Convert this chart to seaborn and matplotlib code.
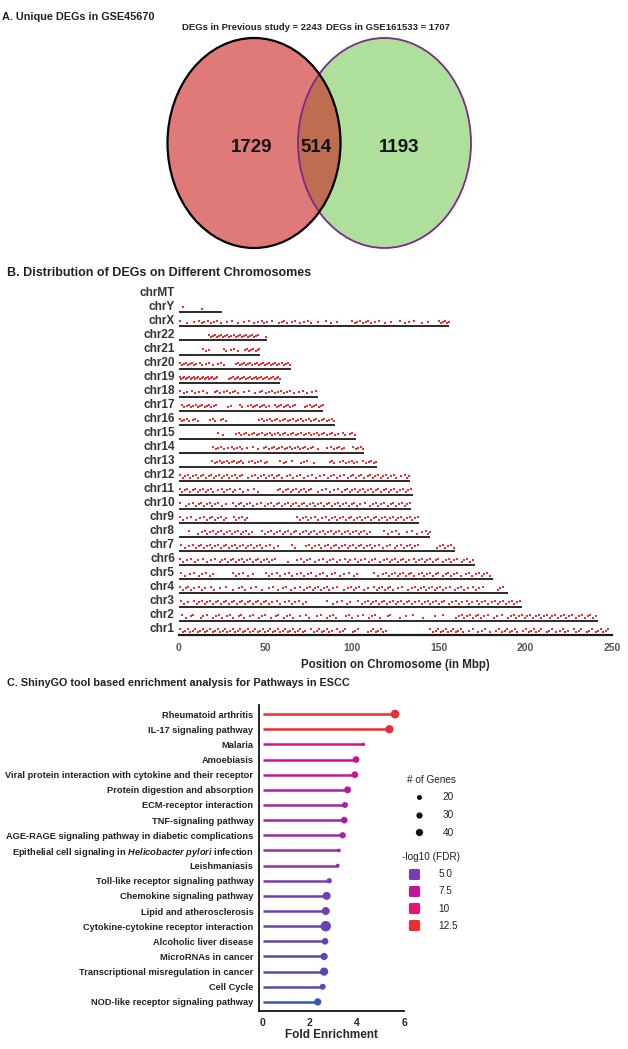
import numpy as np
import pandas as pd
import matplotlib
matplotlib.use("Agg")
import matplotlib.pyplot as plt
from matplotlib.patches import Ellipse
from matplotlib.colors import LinearSegmentedColormap, Normalize
from matplotlib.lines import Line2D
from matplotlib.markers import MarkerStyle
import seaborn as sns

sns.set_theme(style="white")
plt.rcParams["font.family"] = ["Liberation Sans", "DejaVu Sans"]
plt.rcParams["mathtext.fontset"] = "custom"
plt.rcParams["mathtext.it"] = "Liberation Sans:italic:bold"
plt.rcParams["mathtext.rm"] = "Liberation Sans:bold"
plt.rcParams["text.color"] = "#222222"

# ---- Panel A: Venn counts
prev_total = 2243
new_total = 1707
shared = 514

# ---- Panel B: DEG positions (Mbp) per chromosome
chrom_names = ["chr1", "chr2", "chr3", "chr4", "chr5", "chr6", "chr7", "chr8", "chr9", "chr10",
               "chr11", "chr12", "chr13", "chr14", "chr15", "chr16", "chr17", "chr18", "chr19",
               "chr20", "chr21", "chr22", "chrX", "chrY", "chrMT"]
chrom_lengths = [248.9, 242.2, 198.3, 190.2, 181.5, 170.8, 159.3, 145.1, 138.4, 133.8,
                 135.1, 133.3, 114.4, 107.0, 102.0, 90.3, 83.3, 80.4, 58.6,
                 64.4, 46.7, 50.8, 156.0, 25.0, 0.0]

chr1_deg = [0.8, 2.1, 3.5, 5.0, 6.2, 7.9, 9.4, 10.8, 12.0, 13.6, 15.1, 16.4, 17.9, 19.5, 20.7, 22.3,
            23.8, 25.2, 26.6, 28.0, 29.5, 31.0, 32.4, 33.9, 35.3, 36.8, 38.2, 39.7, 41.1, 42.6, 44.0,
            45.5, 46.9, 48.4, 49.8, 51.3, 52.7, 54.2, 55.6, 57.1, 58.5, 60.0, 61.4, 62.9, 64.3, 65.8,
            67.2, 68.7, 70.1, 71.6, 73.0, 76.5, 78.0, 79.4, 80.9, 82.3, 83.8, 85.2, 86.7, 88.1, 91.2,
            93.0, 94.6, 96.1, 100.2, 101.8, 103.3, 109.1, 110.6, 112.0, 113.5, 115.0, 116.4, 117.9,
            119.3, 145.2, 146.6, 148.1, 149.5, 151.0, 152.4, 153.9, 155.3, 156.8, 158.2, 159.7, 161.1,
            162.6, 164.0, 167.3, 169.5, 172.9, 175.1, 176.6, 179.8, 183.2, 185.0, 186.5, 188.0, 189.4,
            190.9, 192.3, 193.8, 195.2, 198.9, 200.3, 201.8, 203.2, 204.7, 206.1, 207.6, 209.0, 212.3,
            213.7, 215.2, 217.8, 220.1, 221.6, 223.0, 224.5, 227.9, 229.3, 230.8, 232.2, 235.5, 236.9,
            238.4, 240.6, 242.1, 243.5, 245.0, 246.4, 247.9]
chr2_deg = [1.5, 4.0, 6.8, 8.2, 12.5, 14.0, 16.1, 19.8, 21.3, 23.0, 24.6, 27.9, 29.4, 31.2, 34.5, 36.0,
            37.7, 41.2, 43.0, 46.3, 48.1, 49.7, 53.0, 55.8, 57.3, 60.9, 62.5, 64.2, 65.8, 70.0, 73.6,
            75.1, 79.4, 82.2, 85.5, 87.1, 88.8, 90.4, 96.7, 98.3, 99.9, 103.5, 106.0, 109.8, 111.4,
            113.0, 116.2, 120.5, 122.1, 127.7, 130.9, 135.2, 141.0, 147.6, 152.3, 160.0, 161.6, 163.2,
            164.8, 166.4, 168.0, 169.6, 171.2, 172.8, 174.4, 176.0, 178.5, 181.8, 183.4, 186.7, 190.0,
            191.6, 193.2, 194.8, 196.4, 198.0, 199.6, 201.2, 202.8, 204.4, 206.0, 207.6, 209.2, 210.8,
            212.4, 214.0, 215.6, 217.2, 218.8, 220.4, 222.0, 223.6, 225.2, 226.8, 229.5, 231.1, 232.7,
            234.3, 235.9, 237.5, 239.1, 240.7]
chr3_deg = [1.2, 3.0, 5.1, 8.7, 10.2, 11.8, 13.3, 14.9, 16.4, 18.0, 19.5, 21.1, 22.6, 24.2, 25.7, 27.3,
            28.8, 30.4, 31.9, 33.5, 35.0, 36.6, 38.1, 39.7, 41.2, 42.8, 44.3, 45.9, 47.4, 49.0, 50.5,
            52.1, 53.6, 56.8, 58.6, 61.0, 63.4, 65.2, 67.0, 69.5, 71.8, 73.1, 85.5, 88.7, 91.5, 94.1,
            96.9, 99.0, 103.2, 105.5, 107.4, 109.0, 110.6, 112.2, 113.8, 115.4, 117.0, 118.6, 120.2,
            121.8, 123.4, 125.0, 126.6, 128.2, 129.8, 131.4, 133.0, 134.6, 136.2, 138.8, 140.4, 142.0,
            143.6, 145.2, 146.8, 148.4, 150.0, 151.6, 153.2, 155.8, 157.4, 160.1, 161.7, 163.3, 166.0,
            167.6, 169.2, 171.8, 173.4, 175.0, 176.6, 178.2, 180.8, 182.4, 184.0, 185.6, 187.2, 188.8,
            190.4, 192.0, 193.6, 195.2, 196.8]
chr4_deg = [0.8, 2.3, 3.9, 5.4, 7.0, 8.8, 11.5, 13.2, 15.0, 18.4, 20.1, 23.7, 26.9, 31.0, 34.6, 36.2,
            38.0, 41.5, 44.2, 47.8, 52.0, 54.5, 57.1, 59.8, 62.0, 64.5, 67.2, 70.0, 72.4, 74.0, 75.6,
            77.2, 78.8, 80.4, 82.0, 83.6, 85.2, 86.8, 89.0, 91.5, 95.0, 97.6, 99.2, 100.8, 102.4, 104.0,
            106.8, 109.0, 112.5, 114.1, 115.7, 117.3, 118.9, 120.5, 122.1, 123.7, 126.4, 129.0, 132.2,
            134.8, 136.4, 138.0, 139.6, 141.2, 142.8, 144.4, 146.0, 147.6, 149.2, 150.8, 152.4, 154.0,
            156.7, 159.5, 161.1, 162.7, 164.3, 166.9, 169.8, 171.4, 173.0, 175.5, 184.2, 185.6, 187.0]
chr5_deg = [0.9, 3.4, 6.2, 8.8, 11.3, 13.0, 15.7, 18.1, 19.6, 31.0, 32.8, 34.9, 37.2, 40.1, 42.5, 50.3,
            52.0, 53.9, 56.4, 58.2, 61.0, 63.5, 65.1, 67.9, 70.4, 72.0, 74.6, 76.3, 78.9, 81.5, 83.0,
            85.7, 88.2, 90.0, 92.8, 95.4, 98.0, 101.2, 103.0, 112.8, 114.9, 117.5, 119.8, 121.4, 123.0,
            124.6, 126.2, 127.8, 129.4, 131.0, 132.6, 134.2, 135.8, 138.5, 140.1, 141.7, 143.3, 144.9,
            146.5, 148.1, 149.7, 152.3, 154.0, 155.6, 157.2, 158.8, 160.4, 163.0, 165.7, 167.3, 168.9,
            171.5, 173.1, 174.7, 176.3, 178.0, 179.6]
chr6_deg = [0.7, 2.5, 4.8, 7.1, 9.5, 11.2, 13.8, 16.0, 18.3, 20.9, 23.4, 25.0, 26.6, 28.2, 29.8, 31.4,
            33.0, 34.6, 36.2, 37.8, 39.4, 41.0, 42.6, 44.2, 45.8, 47.4, 49.0, 50.6, 52.2, 53.8, 55.4,
            63.2, 68.4, 70.5, 72.1, 73.7, 75.9, 78.5, 80.6, 83.2, 85.7, 87.3, 88.9, 91.4, 93.0, 95.8,
            97.4, 99.0, 101.6, 103.2, 104.8, 107.3, 109.9, 111.5, 113.1, 115.8, 118.3, 120.0, 121.6,
            123.2, 124.8, 126.4, 128.0, 129.6, 131.2, 132.8, 135.4, 137.0, 138.6, 140.2, 141.8, 143.4,
            145.0, 146.6, 148.2, 149.8, 152.5, 154.1, 155.7, 157.3, 158.9, 160.5, 163.2, 164.8, 166.4,
            168.0, 169.6]
chr7_deg = [0.9, 3.2, 6.0, 8.1, 9.7, 11.3, 12.9, 14.5, 16.1, 17.7, 19.3, 20.9, 22.5, 24.1, 25.7, 27.3,
            28.9, 30.5, 32.1, 33.7, 35.3, 36.9, 38.5, 40.1, 41.7, 43.3, 44.9, 46.5, 48.1, 50.0, 52.4,
            55.1, 57.3, 65.0, 67.2, 73.5, 75.1, 76.7, 78.3, 80.6, 82.2, 84.5, 86.1, 87.7, 89.3, 90.9,
            92.5, 94.1, 95.7, 97.3, 98.9, 100.5, 102.1, 103.7, 105.3, 106.9, 108.5, 110.1, 111.7, 113.3,
            115.6, 117.9, 120.2, 122.0, 124.5, 126.1, 128.4, 130.0, 131.6, 133.2, 134.8, 136.4, 138.0,
            149.0, 150.6, 152.2, 153.8, 155.4, 157.0, 158.6]
chr8_deg = [5.8, 11.0, 13.2, 14.8, 16.4, 18.0, 19.6, 21.2, 22.8, 24.4, 26.0, 27.6, 29.2, 30.8, 32.4,
            34.0, 35.6, 37.2, 38.8, 40.4, 42.0, 47.9, 49.5, 51.1, 53.4, 55.0, 56.6, 58.2, 59.8, 61.4,
            63.0, 64.6, 66.2, 67.8, 70.1, 71.7, 73.3, 74.9, 76.5, 78.1, 79.7, 81.3, 82.9, 84.5, 86.1,
            87.7, 89.3, 90.9, 92.5, 94.1, 95.7, 97.3, 98.9, 100.5, 102.1, 103.7, 105.3, 106.9, 108.5,
            110.1, 118.3, 120.4, 122.8, 125.0, 127.0, 131.9, 134.5, 137.6, 140.2, 142.8, 143.9, 144.7]
chr9_deg = [0.6, 2.4, 4.5, 7.0, 9.8, 12.1, 14.5, 16.1, 17.7, 19.3, 20.9, 22.5, 24.1, 25.7, 27.0, 31.5,
            33.1, 34.7, 36.3, 37.9, 39.2, 68.3, 69.9, 71.5, 73.1, 74.7, 76.3, 78.6, 80.2, 82.8, 85.1,
            86.7, 88.3, 89.9, 91.5, 93.1, 94.7, 96.3, 97.9, 99.5, 101.1, 102.7, 104.3, 105.9, 107.5,
            109.1, 110.7, 112.3, 113.9, 115.5, 117.1, 118.7, 120.3, 121.9, 123.5, 125.1, 126.7, 128.3,
            129.9, 131.5, 133.1, 134.7, 136.3, 137.8]
chr10_deg = [0.8, 4.2, 5.8, 8.1, 9.7, 11.3, 12.9, 14.5, 16.1, 17.7, 19.3, 20.9, 22.5, 24.6, 27.3, 31.2,
             32.8, 34.4, 36.0, 37.6, 39.2, 40.8, 42.9, 45.1, 47.4, 49.8, 51.6, 53.2, 54.8, 56.4, 58.0,
             59.6, 61.2, 62.8, 64.4, 66.0, 67.6, 69.2, 70.8, 72.4, 74.0, 75.6, 77.2, 78.8, 80.4, 82.0,
             83.6, 85.2, 86.8, 88.4, 90.0, 91.6, 93.2, 94.8, 96.4, 98.0, 99.6, 101.2, 102.8, 104.4,
             107.5, 110.3, 111.9, 113.5, 115.1, 116.7, 118.3, 120.6, 122.2, 123.8, 125.4, 127.0, 128.6,
             130.2, 131.8, 133.2]
chr11_deg = [0.5, 1.9, 3.4, 4.9, 6.4, 7.9, 9.4, 10.9, 12.4, 13.9, 15.4, 16.9, 18.4, 19.9, 22.5, 24.6,
             26.2, 27.8, 29.4, 31.0, 32.6, 35.2, 37.0, 39.8, 43.1, 45.5, 57.0, 58.5, 60.0, 61.5, 63.0,
             64.5, 66.0, 67.5, 69.0, 70.5, 72.0, 73.5, 75.0, 76.5, 80.1, 82.4, 85.0, 86.9, 89.5, 92.0,
             94.1, 95.6, 97.1, 98.6, 100.1, 101.6, 103.1, 104.6, 106.1, 107.6, 109.1, 110.6, 112.1,
             113.6, 115.1, 116.6, 118.1, 119.6, 121.1, 122.6, 124.1, 125.6, 127.4, 129.5, 131.0, 132.5,
             134.0]
chr12_deg = [0.6, 2.1, 3.6, 5.1, 6.6, 8.1, 9.6, 11.1, 12.6, 14.1, 15.6, 17.1, 18.6, 20.1, 21.6, 23.1,
             24.6, 26.1, 27.6, 29.1, 30.6, 32.1, 33.6, 35.1, 36.6, 40.0, 42.2, 44.1, 45.7, 47.5, 49.0,
             50.5, 52.0, 53.5, 55.0, 56.5, 58.0, 59.5, 62.3, 64.0, 66.1, 68.4, 70.0, 72.2, 74.5, 76.8,
             79.0, 81.2, 83.5, 85.8, 88.0, 89.5, 91.0, 93.2, 95.5, 97.7, 99.2, 100.7, 102.2, 103.7,
             105.2, 106.7, 108.9, 110.4, 111.9, 113.4, 114.9, 116.4, 117.9, 119.4, 120.9, 122.4, 123.9,
             125.4, 128.2, 130.3, 131.8, 133.0]
chr13_deg = [19.2, 20.6, 22.0, 23.4, 24.8, 26.2, 27.6, 29.0, 30.4, 31.8, 33.2, 34.6, 36.0, 37.1, 40.3,
             42.1, 43.6, 45.4, 47.2, 49.5, 51.0, 58.3, 60.5, 62.0, 65.4, 70.2, 72.0, 73.8, 78.1, 87.0,
             88.3, 89.6, 93.2, 94.8, 96.4, 98.0, 99.6, 101.2, 102.5, 106.3, 107.9, 109.5, 111.1, 112.7,
             114.0]
chr14_deg = [19.8, 21.3, 22.8, 24.3, 25.8, 28.1, 30.4, 32.0, 33.5, 35.0, 36.5, 39.2, 42.5, 45.6, 49.0,
             50.5, 52.0, 53.5, 55.0, 56.5, 58.0, 59.5, 61.0, 62.5, 64.0, 65.5, 67.0, 68.5, 70.0, 71.5,
             73.0, 74.5, 76.0, 77.5, 80.3, 85.2, 87.9, 89.5, 91.0, 92.5, 94.0, 95.5, 100.4, 102.0,
             103.5, 105.0, 106.3]
chr15_deg = [22.8, 25.3, 32.9, 34.4, 35.9, 37.4, 38.9, 40.4, 41.9, 43.4, 44.9, 46.4, 47.9, 49.4, 50.9,
             52.4, 53.9, 55.4, 56.9, 58.4, 59.9, 61.4, 62.9, 64.4, 65.9, 67.4, 68.9, 70.4, 71.9, 73.4,
             74.9, 76.4, 77.9, 79.4, 80.9, 82.4, 83.9, 85.4, 86.9, 88.4, 89.9, 92.0, 94.6, 96.1, 98.5,
             100.0, 101.4]
chr16_deg = [0.5, 1.8, 3.1, 4.4, 5.6, 8.2, 9.5, 11.0, 18.0, 19.4, 20.8, 24.1, 25.5, 26.9, 46.3, 47.8,
             49.3, 50.8, 52.3, 53.8, 55.3, 56.8, 58.3, 59.8, 61.3, 62.8, 64.3, 65.8, 67.3, 68.8, 70.3,
             71.8, 73.3, 74.8, 76.3, 77.8, 79.3, 80.8, 82.3, 83.8, 85.3, 86.8, 88.3, 89.6]
chr17_deg = [1.8, 3.1, 4.4, 5.7, 7.0, 8.3, 9.6, 10.9, 12.2, 13.5, 14.8, 16.1, 17.4, 18.7, 20.0, 21.3,
             28.3, 30.1, 35.2, 36.6, 40.1, 41.4, 42.7, 44.0, 45.3, 46.6, 47.9, 49.2, 50.5, 51.8, 55.2,
             56.5, 57.8, 59.1, 60.4, 61.7, 63.0, 64.3, 65.6, 66.9, 72.8, 74.1, 75.4, 76.7, 78.0, 79.3,
             80.6, 81.9, 83.0]
chr18_deg = [0.6, 2.7, 4.9, 7.3, 9.5, 11.8, 13.9, 16.4, 20.5, 22.1, 23.7, 25.9, 27.6, 29.4, 31.0, 32.5,
             34.1, 37.8, 40.2, 43.9, 46.5, 48.1, 50.3, 52.0, 53.8, 55.4, 57.1, 58.7, 60.4, 62.2, 64.0,
             66.5, 69.1, 71.8, 74.0, 76.6, 79.0]
chr19_deg = [0.4, 1.3, 2.2, 3.1, 4.0, 4.9, 5.8, 6.7, 7.6, 8.5, 9.4, 10.3, 11.2, 12.1, 13.0, 13.9, 14.8,
             15.7, 16.6, 17.5, 18.4, 19.3, 20.2, 21.1, 22.0, 28.8, 29.9, 31.0, 32.1, 33.2, 34.3, 35.4,
             36.5, 37.6, 38.7, 39.8, 40.9, 42.0, 43.1, 44.2, 45.3, 46.4, 47.5, 48.6, 49.7, 50.8, 51.9,
             53.0, 54.1, 55.2, 56.3, 57.4, 58.3]
chr20_deg = [0.4, 1.6, 2.8, 4.0, 5.2, 6.4, 7.6, 8.8, 10.0, 11.9, 13.5, 15.6, 17.4, 19.9, 22.3, 24.5,
             26.1, 32.8, 34.0, 35.2, 36.4, 37.6, 38.8, 40.0, 41.2, 42.4, 43.6, 44.8, 46.0, 47.2, 48.4,
             49.6, 50.8, 52.0, 53.2, 54.4, 55.6, 56.8, 58.0, 59.2, 60.4, 61.6, 62.8, 63.9]
chr21_deg = [14.1, 15.6, 17.2, 25.8, 27.4, 29.9, 31.5, 33.8, 38.2, 39.4, 40.6, 41.8, 43.0, 44.2, 45.4,
             46.3]
chr22_deg = [17.1, 18.3, 19.5, 20.7, 21.9, 23.1, 24.3, 25.5, 26.7, 27.9, 29.1, 30.3, 31.5, 32.7, 33.9,
             35.1, 36.3, 37.5, 38.7, 39.9, 41.1, 42.3, 43.5, 44.7, 45.9, 50.2]
chrX_deg = [0.8, 4.9, 8.6, 11.4, 13.0, 14.6, 16.7, 18.3, 20.1, 22.0, 24.5, 27.9, 30.8, 33.9, 37.5, 40.4,
            43.1, 45.6, 47.8, 49.3, 51.0, 53.6, 57.7, 59.2, 60.6, 62.1, 65.3, 67.0, 69.8, 71.9, 74.2,
            76.4, 80.1, 84.9, 88.0, 91.2, 99.8, 101.5, 103.0, 104.6, 106.1, 107.7, 109.2, 110.8, 112.9,
            115.6, 119.1, 122.3, 127.8, 130.5, 132.6, 135.9, 140.2, 144.0, 150.1, 151.3, 152.5, 153.7,
            154.9, 155.8]
chrY_deg = [2.5, 13.0]
chrMT_deg = []

chrom_degs = [chr1_deg, chr2_deg, chr3_deg, chr4_deg, chr5_deg, chr6_deg, chr7_deg, chr8_deg,
              chr9_deg, chr10_deg, chr11_deg, chr12_deg, chr13_deg, chr14_deg, chr15_deg, chr16_deg,
              chr17_deg, chr18_deg, chr19_deg, chr20_deg, chr21_deg, chr22_deg, chrX_deg, chrY_deg,
              chrMT_deg]

# ---- Panel C: ShinyGO pathways
pathways = ["Rheumatoid arthritis", "IL-17 signaling pathway", "Malaria", "Amoebiasis",
            "Viral protein interaction with cytokine and their receptor",
            "Protein digestion and absorption", "ECM-receptor interaction", "TNF-signaling pathway",
            "AGE-RAGE signaling pathway in diabetic complications",
            r"Epithelial cell signaling in $\mathit{Helicobacter\ pylori}$ infection",
            "Leishmaniasis", "Toll-like receptor signaling pathway", "Chemokine signaling pathway",
            "Lipid and atherosclerosis", "Cytokine-cytokine receptor interaction",
            "Alcoholic liver disease", "MicroRNAs in cancer", "Transcriptional misregulation in cancer",
            "Cell Cycle", "NOD-like receptor signaling pathway"]
fold_enrichment = [5.62, 5.38, 4.27, 3.96, 3.91, 3.60, 3.49, 3.46, 3.39, 3.23,
                   3.18, 2.82, 2.71, 2.67, 2.67, 2.64, 2.60, 2.60, 2.54, 2.33]
n_genes = [56, 51, 11, 34, 34, 37, 28, 34, 31, 12,
           12, 22, 48, 48, 84, 34, 40, 51, 28, 40]
neg_log_fdr = [12.5, 12.3, 8.5, 8.0, 8.0, 7.0, 6.6, 6.4, 6.3, 6.0,
               5.9, 5.0, 4.8, 4.7, 4.6, 4.5, 4.4, 4.3, 4.2, 3.5]
size_legend = [20, 30, 40]
fdr_legend = [5.0, 7.5, 10, 12.5]

W, H = 628, 1049
fig = plt.figure(figsize=(W / 100, H / 100), dpi=100)


def fx(x):
    return x / W


def fy(y):
    return 1 - y / H


# ================= A. Venn =================
axA = fig.add_axes([0, fy(260), 1, 260 / H])
axA.set_xlim(0, W)
axA.set_ylim(260, 0)
axA.axis("off")
left = Ellipse((254, 143), 173, 210, facecolor="#E07A78", edgecolor="none")
right = Ellipse((384.5, 143), 173, 210, facecolor="#AEDF9B", edgecolor="none")
axA.add_patch(left)
axA.add_patch(right)
both = Ellipse((384.5, 143), 173, 210, facecolor="#BE6E50", edgecolor="none")
axA.add_patch(both)
both.set_clip_path(left)
axA.add_patch(Ellipse((384.5, 143), 173, 210, fill=False, edgecolor="#7A2B86", lw=1.3))
axA.add_patch(Ellipse((254, 143), 173, 210, fill=False, edgecolor="black", lw=1.6))

axA.text(252, 28, f"DEGs in Previous study = {prev_total}", ha="center", va="center",
         fontsize=6.8, fontweight="bold")
axA.text(388, 28, f"DEGs in GSE161533 = {new_total}", ha="center", va="center",
         fontsize=6.8, fontweight="bold")
for x, v in [(252, prev_total - shared), (316, shared), (399, new_total - shared)]:
    axA.text(x, 147, str(v), ha="center", va="center", fontsize=13.5, fontweight="bold", color="#111111")
fig.text(fx(2), fy(17), "A. Unique DEGs in GSE45670", ha="left", va="center", fontsize=7.8, fontweight="bold")

# ================= B. Chromosomes =================
fig.text(fx(7), fy(273), "B. Distribution of DEGs on Different Chromosomes", ha="left", va="center",
         fontsize=9, fontweight="bold")
axB = fig.add_axes([fx(179), fy(635), (612 - 179) / W, (635 - 283) / H])
rows = np.arange(len(chrom_names))
axB.hlines(rows[1:] - 0.5, 0, chrom_lengths[1:], color="#2a2a2a", lw=1.4, zorder=1)

deg_records = []
for r, positions in enumerate(chrom_degs):
    for i, p in enumerate(positions):
        deg_records.append({"pos": p, "y": r - [0.1, 0.27, 0.18][i % 3]})
deg_df = pd.DataFrame(deg_records)
sns.scatterplot(data=deg_df, x="pos", y="y", marker="s", s=3.6, color="#F02A2E",
                linewidth=0, ax=axB, zorder=2)

axB.set_xlim(0, 250)
axB.set_ylim(-0.5, 24.6)
axB.set_yticks(rows)
axB.set_yticklabels(chrom_names, fontsize=8.5, fontweight="bold", color="#333333")
axB.set_xticks([0, 50, 100, 150, 200, 250])
axB.tick_params(axis="y", length=0, pad=3)
axB.tick_params(axis="x", length=4, width=1, color="black", pad=2, labelsize=7.5, labelcolor="#555555")
for t in axB.get_xticklabels():
    t.set_fontweight("bold")
axB.set_xlabel("Position on Chromosome (in Mbp)", fontsize=8.3, fontweight="bold", labelpad=4)
axB.set_ylabel("")
for s in ["top", "right", "left"]:
    axB.spines[s].set_visible(False)
axB.spines["bottom"].set_color("#1a1a1a")
axB.spines["bottom"].set_linewidth(1.6)

# ================= C. Lollipop =================
fig.text(fx(7), fy(683), "C. ShinyGO tool based enrichment analysis for Pathways in ESCC", ha="left",
         va="center", fontsize=7.8, fontweight="bold")
axC = fig.add_axes([fx(259), fy(1011), (404 - 259) / W, (1011 - 705) / H])
fdr_cmap = LinearSegmentedColormap.from_list(
    "fdr", [(0, "#3A55B4"), (0.167, "#7A3CAE"), (0.444, "#C3129C"), (0.722, "#E8156C"), (1, "#EF2D2D")])
fdr_norm = Normalize(3.5, 12.5)
size_norm = (10, 80)
size_range = (5.7, 56.4)


def marker_area(g):
    return size_range[0] + (g - size_norm[0]) / (size_norm[1] - size_norm[0]) * (size_range[1] - size_range[0])


path_df = pd.DataFrame({"pathway": pathways, "fold": fold_enrichment, "genes": n_genes,
                        "fdr": neg_log_fdr, "row": np.arange(len(pathways))})
axC.hlines(path_df["row"], 0, path_df["fold"], colors=fdr_cmap(fdr_norm(path_df["fdr"])), lw=1.8, zorder=2)
sns.scatterplot(data=path_df, x="fold", y="row", hue="fdr", palette=fdr_cmap, hue_norm=(3.5, 12.5),
                size="genes", sizes=size_range, size_norm=size_norm, legend=False, linewidth=0,
                ax=axC, zorder=3)
axC.set_xlim(-0.17, 6)
axC.set_ylim(19.6, -0.6)
axC.set_yticks(path_df["row"])
axC.set_yticklabels(pathways, fontsize=6.7, fontweight="bold", color="#222222")
axC.set_xticks([0, 2, 4, 6])
axC.tick_params(axis="y", length=0, pad=4)
axC.tick_params(axis="x", length=4, width=1, color="black", pad=1, labelsize=7.5)
for t in axC.get_xticklabels():
    t.set_fontweight("bold")
axC.set_xlabel("Fold Enrichment", fontsize=8.5, fontweight="bold", labelpad=1)
axC.set_ylabel("")
for s in ["top", "right"]:
    axC.spines[s].set_visible(False)
for s in ["left", "bottom"]:
    axC.spines[s].set_color("black")
    axC.spines[s].set_linewidth(1.2)

size_handles = [Line2D([], [], marker="o", linestyle="", color="#111111", markeredgewidth=0,
                       markersize=np.sqrt(marker_area(g))) for g in size_legend]
fig.legend(size_handles, [str(g) for g in size_legend], title="# of Genes", loc="upper left",
           bbox_to_anchor=(fx(403), fy(771)), frameon=False, fontsize=7.2, title_fontsize=7.2,
           labelspacing=0.75, handletextpad=1.3, borderaxespad=0)
rounded_square = MarkerStyle("s", joinstyle="round")
fdr_handles = [Line2D([], [], marker=rounded_square, linestyle="", color=fdr_cmap(fdr_norm(v)),
                      markeredgecolor=fdr_cmap(fdr_norm(v)), markeredgewidth=2.2, markersize=5.5)
               for v in fdr_legend]
fig.legend(fdr_handles, ["5.0", "7.5", "10", "12.5"], title="-log10 (FDR)", loc="upper left",
           bbox_to_anchor=(fx(398), fy(848)), frameon=False, fontsize=7.2, title_fontsize=7.2,
           labelspacing=0.72, handletextpad=1.4, borderaxespad=0)

fig.savefig("out.png", dpi=100)
